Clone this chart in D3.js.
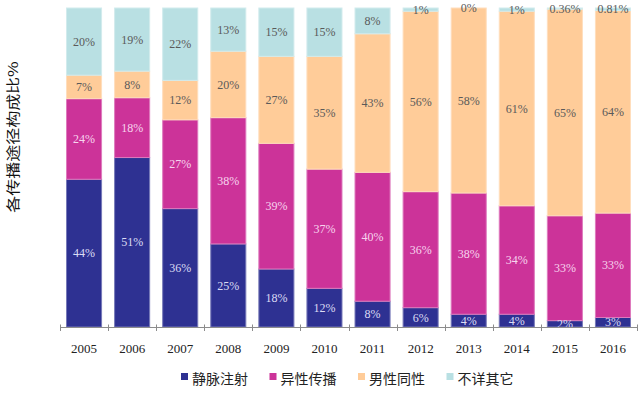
<!DOCTYPE html>
<html>
<head>
<meta charset="utf-8">
<script src="https://cdn.jsdelivr.net/npm/d3@7"></script>
<style>
  body { margin: 0; background: #fff; }
  svg { display: block; }
</style>
</head>
<body>
<div id="chart"></div>
<script>
// data (percent per year)
const years = ['2005', '2006', '2007', '2008', '2009', '2010', '2011', '2012', '2013', '2014', '2015', '2016'];
const idu = [44, 51, 36, 25, 18, 12, 8, 6, 4, 4, 2, 3];
const hetero = [24, 18, 27, 38, 39, 37, 40, 36, 38, 34, 33, 33];
const msm = [7, 8, 12, 20, 27, 35, 43, 56, 58, 61, 65, 64];
const unknown = [20, 19, 22, 13, 15, 15, 8, 1, 0, 1, 0.36, 0.81];

const seriesNames = ['静脉注射', '异性传播', '男性同性', '不详其它'];
const seriesValues = [idu, hetero, msm, unknown];
const colors = ['#2e3192', '#cc3399', '#ffcc99', '#b9e0e3'];
const labelColors = ['#dcdcf4', '#f7d4ee', '#5a5a5a', '#5a5a5a'];

const width = 640, height = 398;
const margin = { top: 8, right: 3, bottom: 71, left: 60 };

const svg = d3.select('#chart').append('svg')
  .attr('width', width)
  .attr('height', height);

const rows = years.map((y, i) => {
  const r = { year: y };
  seriesNames.forEach((s, k) => { r[s] = seriesValues[k][i]; });
  return r;
});

const stack = d3.stack()
  .keys(seriesNames)
  .offset(d3.stackOffsetExpand);
const layers = stack(rows);

const x = d3.scaleBand()
  .domain(years)
  .range([margin.left, width - margin.right])
  .paddingInner(0.25)
  .paddingOuter(0.125);

const y = d3.scaleLinear()
  .domain([0, 1])
  .range([height - margin.bottom, margin.top]);

const layerG = svg.append('g').selectAll('g')
  .data(layers)
  .enter().append('g')
  .attr('fill', (d, i) => colors[i])
  .attr('stroke', (d, i) => d3.interpolateRgb(colors[i], '#fff')(0.35))
  .attr('stroke-width', 1);

layerG.selectAll('rect')
  .data(d => d)
  .enter().append('rect')
  .attr('x', d => x(d.data.year) + 0.5)
  .attr('width', x.bandwidth() - 1)
  .attr('y', d => y(d[1]))
  .attr('height', d => Math.max(0, y(d[0]) - y(d[1])));

// value labels, centred in each segment
const labelG = svg.append('g')
  .attr('font-family', '"Liberation Serif", "DejaVu Serif", serif')
  .attr('font-size', 12)
  .attr('text-anchor', 'middle');

layers.forEach((layer, k) => {
  labelG.selectAll('.lab' + k)
    .data(layer)
    .enter().append('text')
    .attr('class', 'lab' + k)
    .attr('x', d => x(d.data.year) + x.bandwidth() / 2)
    .attr('y', d => (y(d[0]) + y(d[1])) / 2)
    .attr('dy', '0.35em')
    .attr('fill', labelColors[k])
    .text((d, i) => seriesValues[k][i] + '%');
});

// x axis: line with ticks on band boundaries
const axisY = height - margin.bottom;
const step = x.step();
const x0 = x.range()[0];
const axisG = svg.append('g').attr('stroke', '#8c8c8c').attr('stroke-width', 1);
axisG.append('line')
  .attr('x1', x0).attr('x2', x.range()[1])
  .attr('y1', axisY + 0.5).attr('y2', axisY + 0.5);
axisG.selectAll('.tick')
  .data(d3.range(years.length + 1))
  .enter().append('line')
  .attr('x1', i => Math.round(x0 + i * step) + 0.5)
  .attr('x2', i => Math.round(x0 + i * step) + 0.5)
  .attr('y1', axisY - 2.5)
  .attr('y2', axisY + 4);

svg.append('g')
  .attr('font-family', '"Liberation Serif", "DejaVu Serif", serif')
  .attr('font-size', 13)
  .attr('fill', '#222')
  .attr('text-anchor', 'middle')
  .selectAll('text')
  .data(years)
  .enter().append('text')
  .attr('x', d => x(d) + x.bandwidth() / 2)
  .attr('y', axisY + 26)
  .text(d => d);

// y axis title
svg.append('text')
  .attr('transform', 'translate(18,137) rotate(-90) scale(1,0.8)')
  .attr('text-anchor', 'middle')
  .attr('font-family', '"Noto Sans CJK SC", sans-serif')
  .attr('font-size', 17)
  .attr('fill', '#111')
  .text('各传播途径构成比%');

// legend
const legend = svg.append('g')
  .attr('font-family', '"Noto Sans CJK SC", sans-serif')
  .attr('font-size', 14)
  .attr('fill', '#222');

const item = legend.selectAll('g')
  .data(seriesNames)
  .enter().append('g')
  .attr('transform', (d, i) => 'translate(' + (181 + i * 88.5) + ',373)');

item.append('rect')
  .attr('width', 7)
  .attr('height', 7)
  .attr('fill', (d, i) => colors[i]);

item.append('text')
  .attr('x', 11)
  .attr('y', 6)
  .attr('dy', '0.35em')
  .text(d => d);
</script>
</body>
</html>
